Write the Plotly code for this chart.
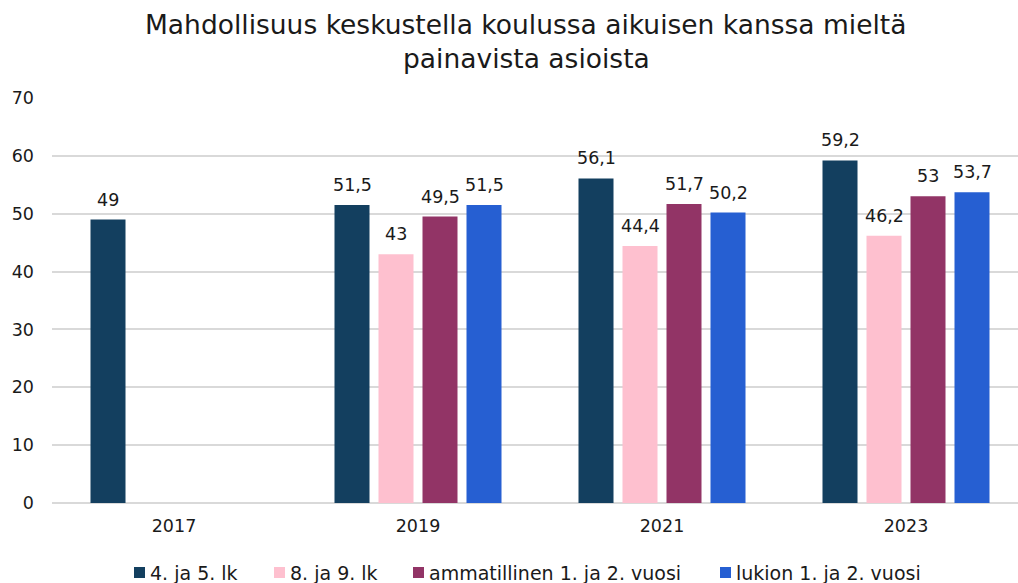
import plotly.graph_objects as go

years = ["2017", "2019", "2021", "2023"]
series_names = ["4. ja 5. lk", "8. ja 9. lk", "ammatillinen 1. ja 2. vuosi", "lukion 1. ja 2. vuosi"]
s1 = [49, 51.5, 56.1, 59.2]
s2 = [None, 43, 44.4, 46.2]
s3 = [None, 49.5, 51.7, 53]
s4 = [None, 51.5, 50.2, 53.7]
colors = ["#133F5F", "#FEC0CF", "#923466", "#265FD2"]
y_ticks = [0, 10, 20, 30, 40, 50, 60, 70]
title_lines = ["Mahdollisuus keskustella koulussa aikuisen kanssa mieltä", "painavista asioista"]

def fmt(v):
    return ("%g" % v).replace(".", ",")

FONT = "DejaVu Sans"
TXT = "#1a1a1a"
W, H = 1018, 583
ML, MT, MB = 52, 98, 80
PW, PH = W - ML, H - MT - MB
BARGAP, GROUPGAP = 0.2787, 0.2045
n = 4
slot = (1 - BARGAP) / n

def px_x(px):
    return (px - ML) / PW

def px_y(py):
    return (H - MB - py) / PH

fig = go.Figure()
xs = list(range(len(years)))
all_series = [s1, s2, s3, s4]
for i, (name, vals, col) in enumerate(zip(series_names, all_series, colors)):
    fig.add_trace(go.Bar(
        x=xs, y=vals, name=name,
        marker=dict(color=col, line=dict(width=0)),
        showlegend=False,
    ))
    # data labels
    for j, v in enumerate(vals):
        if v is None:
            continue
        fig.add_annotation(x=j + (i - (n - 1) / 2) * slot, y=v, text=fmt(v),
                           xref="x", yref="y", xanchor="center", yanchor="bottom",
                           yshift=8, showarrow=False,
                           font=dict(family=FONT, size=17.5, color=TXT))

# title
for k, line in enumerate(title_lines):
    fig.add_annotation(text=line, xref="paper", yref="paper",
                       x=px_x(526), y=px_y(24 + 34 * k),
                       xanchor="center", yanchor="middle", showarrow=False,
                       font=dict(family=FONT, size=26.5, color=TXT))

# legend (manual)
legend_marker_px = [134, 274, 413, 720]
for name, col, mx in zip(series_names, colors, legend_marker_px):
    fig.add_shape(type="rect", xref="paper", yref="paper",
                  x0=px_x(mx), x1=px_x(mx + 11), y0=px_y(578), y1=px_y(567),
                  fillcolor=col, line=dict(width=0))
    fig.add_annotation(text=name, xref="paper", yref="paper",
                       x=px_x(mx + 14), y=px_y(572.5), xanchor="left", yanchor="middle",
                       showarrow=False, font=dict(family=FONT, size=19, color=TXT))

fig.update_layout(
    width=W, height=H,
    margin=dict(l=ML, r=0, t=MT, b=MB, autoexpand=False),
    paper_bgcolor="white", plot_bgcolor="white",
    barmode="group", bargap=BARGAP, bargroupgap=GROUPGAP,
    xaxis=dict(tickmode="array", tickvals=xs, ticktext=years, range=[-0.5, 3.459],
               showgrid=False, zeroline=False, showline=False, ticks="",
               tickfont=dict(family=FONT, size=17.5, color=TXT), ticklabelstandoff=10),
    yaxis=dict(range=[0, 70], tickvals=y_ticks, showgrid=True, gridcolor="#D9D9D9", gridwidth=1.5,
               zeroline=True, zerolinecolor="#D9D9D9", zerolinewidth=1.5, showline=False, ticks="",
               tickfont=dict(family=FONT, size=17.5, color=TXT), ticklabelstandoff=17),
    showlegend=False,
)
fig.write_html("out.html", config={"displayModeBar": False},
               post_script="document.body.style.margin='0';")
